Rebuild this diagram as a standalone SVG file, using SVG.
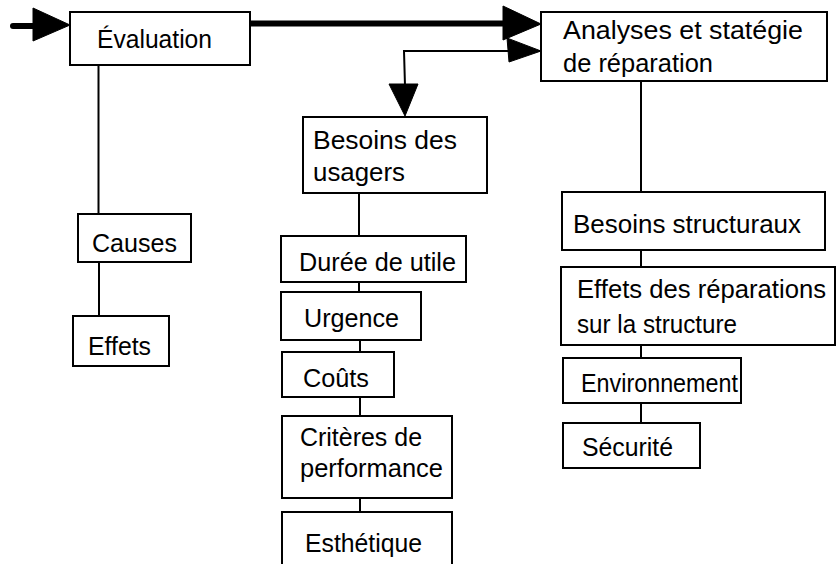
<svg xmlns="http://www.w3.org/2000/svg" width="836" height="564" viewBox="0 0 836 564">
  <style>
    .box { fill: #ffffff; stroke: #000000; stroke-width: 2; }
    .lbl { font-family: "Liberation Sans", Arial, sans-serif; font-size: 26px; fill: #000000; }
    .link { fill: none; stroke: #000000; stroke-width: 2; }
    .thick { fill: none; stroke: #000000; stroke-width: 6; stroke-linecap: round; }
    .head { fill: #000000; stroke: #000000; stroke-width: 1; stroke-linejoin: round; }
  </style>
  <rect x="0" y="0" width="836" height="564" fill="#ffffff"/>

  <!-- connectors -->
  <g id="connectors">
    <!-- entry arrow -->
    <line class="thick" x1="13" y1="26" x2="40" y2="26"/>
    <polygon class="head" points="33,8 70,25 33,41"/>
    <!-- Évaluation to Analyses -->
    <line class="thick" x1="250" y1="23.5" x2="506" y2="23.5"/>
    <polygon class="head" points="503,6 541,24 503,40"/>
    <!-- feedback arrow to Analyses and down to Besoins des usagers -->
    <polyline class="link" points="541,51 404,51 405,86"/>
    <polygon class="head" points="507,38 541,51 509,62"/>
    <polygon class="head" points="389,84 418,84 405,116"/>
    <!-- left column -->
    <line class="link" x1="98.5" y1="65" x2="98.5" y2="214"/>
    <line class="link" x1="99" y1="262" x2="99" y2="316"/>
    <!-- middle column -->
    <line class="link" x1="359" y1="193" x2="359" y2="236"/>
    <line class="link" x1="359" y1="282" x2="359" y2="292"/>
    <line class="link" x1="360" y1="340" x2="360" y2="352"/>
    <line class="link" x1="360" y1="397" x2="360" y2="416"/>
    <line class="link" x1="360" y1="498" x2="360" y2="512"/>
    <!-- right column -->
    <line class="link" x1="641" y1="81" x2="641" y2="192"/>
    <line class="link" x1="641" y1="250" x2="641" y2="267"/>
    <line class="link" x1="641" y1="345" x2="641" y2="358"/>
    <line class="link" x1="641" y1="403" x2="641" y2="423"/>
  </g>

  <g id="evaluation">
    <rect class="box" x="70" y="12" width="180" height="53"/>
    <text class="lbl" x="97" y="48" textLength="115" lengthAdjust="spacingAndGlyphs">Évaluation</text>
  </g>

  <g id="analyses">
    <rect class="box" x="541" y="12" width="286" height="69"/>
    <text class="lbl" x="563" y="39" textLength="240" lengthAdjust="spacingAndGlyphs">Analyses et statégie</text>
    <text class="lbl" x="563" y="72" textLength="150" lengthAdjust="spacingAndGlyphs">de réparation</text>
  </g>

  <g id="causes">
    <rect class="box" x="78" y="214" width="113" height="48"/>
    <text class="lbl" x="92" y="252" textLength="85" lengthAdjust="spacingAndGlyphs">Causes</text>
  </g>

  <g id="effets">
    <rect class="box" x="73" y="316" width="96" height="50"/>
    <text class="lbl" x="88" y="355" textLength="63" lengthAdjust="spacingAndGlyphs">Effets</text>
  </g>

  <g id="besoins-usagers">
    <rect class="box" x="303" y="117" width="184" height="76"/>
    <text class="lbl" x="313" y="149" textLength="144" lengthAdjust="spacingAndGlyphs">Besoins des</text>
    <text class="lbl" x="313" y="181" textLength="92" lengthAdjust="spacingAndGlyphs">usagers</text>
  </g>

  <g id="duree">
    <rect class="box" x="281" y="236" width="185" height="46"/>
    <text class="lbl" x="299" y="271" textLength="157" lengthAdjust="spacingAndGlyphs">Durée de utile</text>
  </g>

  <g id="urgence">
    <rect class="box" x="281" y="292" width="140" height="48"/>
    <text class="lbl" x="304" y="327" textLength="95" lengthAdjust="spacingAndGlyphs">Urgence</text>
  </g>

  <g id="couts">
    <rect class="box" x="282" y="352" width="112" height="45"/>
    <text class="lbl" x="303" y="387" textLength="66" lengthAdjust="spacingAndGlyphs">Coûts</text>
  </g>

  <g id="criteres">
    <rect class="box" x="282" y="416" width="170" height="82"/>
    <text class="lbl" x="300" y="446" textLength="122" lengthAdjust="spacingAndGlyphs">Critères de</text>
    <text class="lbl" x="300" y="477" textLength="143" lengthAdjust="spacingAndGlyphs">performance</text>
  </g>

  <g id="esthetique">
    <rect class="box" x="282" y="512" width="170" height="60"/>
    <text class="lbl" x="305" y="552" textLength="117" lengthAdjust="spacingAndGlyphs">Esthétique</text>
  </g>

  <g id="besoins-structuraux">
    <rect class="box" x="562" y="192" width="263" height="58"/>
    <text class="lbl" x="573" y="233" textLength="228" lengthAdjust="spacingAndGlyphs">Besoins structuraux</text>
  </g>

  <g id="effets-reparations">
    <rect class="box" x="561" y="267" width="274" height="78"/>
    <text class="lbl" x="577" y="298" textLength="249" lengthAdjust="spacingAndGlyphs">Effets des réparations</text>
    <text class="lbl" x="577" y="333" textLength="160" lengthAdjust="spacingAndGlyphs">sur la structure</text>
  </g>

  <g id="environnement">
    <rect class="box" x="563" y="358" width="178" height="45"/>
    <text class="lbl" x="581" y="392" textLength="157" lengthAdjust="spacingAndGlyphs">Environnement</text>
  </g>

  <g id="securite">
    <rect class="box" x="563" y="423" width="137" height="45"/>
    <text class="lbl" x="582" y="456" textLength="91" lengthAdjust="spacingAndGlyphs">Sécurité</text>
  </g>
</svg>
